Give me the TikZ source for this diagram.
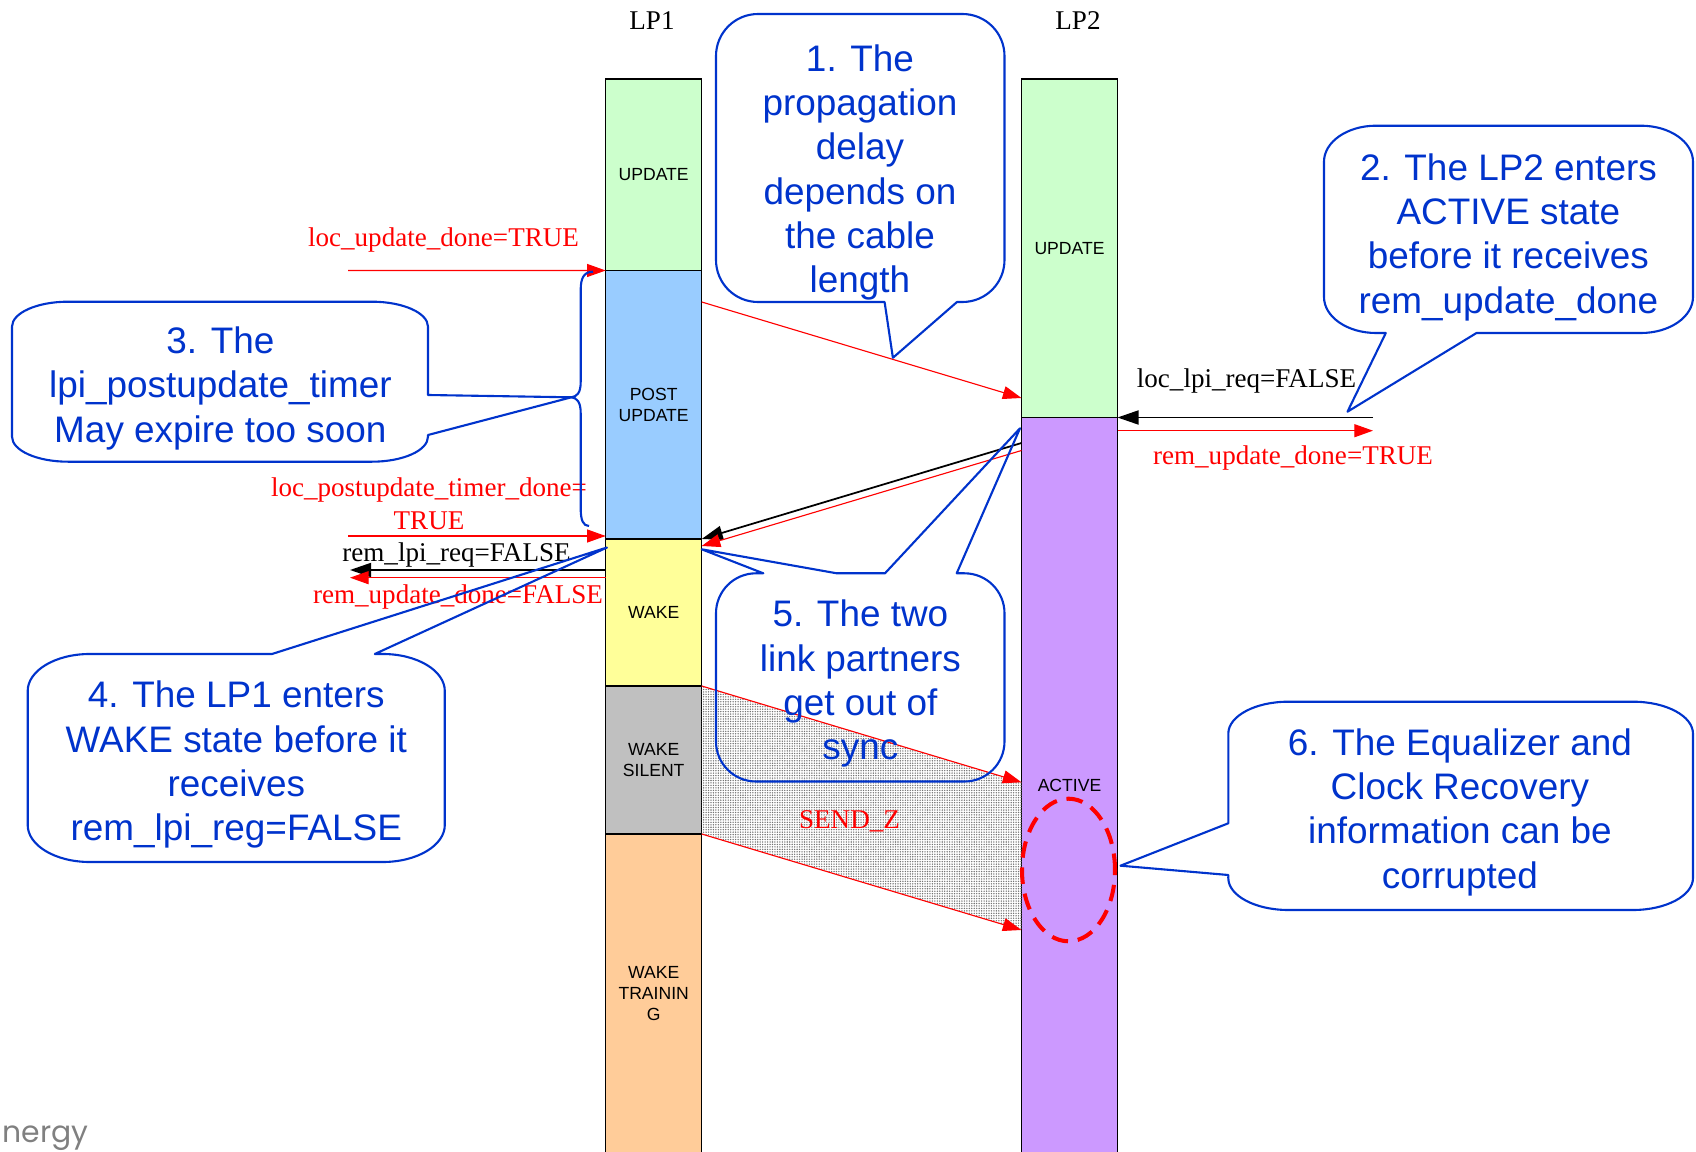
\documentclass[tikz,border=0pt]{standalone}
\usepackage{fontspec}
\setmainfont{Liberation Serif}
\newfontfamily\arialfont{Liberation Sans}
\newfontfamily\logofont{Poppins}
\usetikzlibrary{positioning,arrows.meta,patterns.meta}
\definecolor{updgreen}{HTML}{CCFFCC}
\definecolor{postblue}{HTML}{99CCFF}
\definecolor{wakeyellow}{HTML}{FFFF99}
\definecolor{silentgray}{HTML}{C0C0C0}
\definecolor{trainorange}{HTML}{FFCC99}
\definecolor{activepurple}{HTML}{CC99FF}
\definecolor{calblue}{HTML}{0033CC}

\begin{document}
\begin{tikzpicture}[
  phase/.style={draw, line width=0.4pt, minimum width=0.96cm, inner sep=0pt, outer sep=0pt, anchor=north, align=center, font=\arialfont\fontsize{5}{5.9}\selectfont},
  sigtext/.style={anchor=base, inner sep=0pt, align=center, font=\fontsize{7.7}{9.2}\selectfont},
  bubble/.style={draw=calblue, line width=0.6pt, line join=round},
  bubbletext/.style={text=calblue, inner sep=0pt, align=center, font=\arialfont\fontsize{10.5}{12.6}\selectfont},
  redsig/.style={red, line width=0.32pt, -{Triangle[length=5.3pt,width=3.7pt]}},
  blacksig/.style={black, line width=0.5pt, -{Triangle[length=6pt,width=4pt]}},
  node distance=0pt]
  \useasboundingbox (0,0) rectangle (16.96,-11.52);

  \node[phase, fill=updgreen, minimum height=1.915cm] (lp1upd) at (6.537,-0.79) {UPDATE};
  \node[phase, fill=postblue, minimum height=2.685cm, below=of lp1upd] (lp1post) {POST\\UPDATE};
  \node[phase, fill=wakeyellow, minimum height=1.47cm, below=of lp1post] (lp1wake) {WAKE};
  \node[phase, fill=silentgray, minimum height=1.48cm, below=of lp1wake] (lp1silent) {WAKE\\SILENT};
  \node[phase, fill=trainorange, minimum height=3.19cm, below=of lp1silent] (lp1train) {WAKE\\TRAININ\\G};
  \node[phase, fill=updgreen, minimum height=3.385cm] (lp2upd) at (10.695,-0.79) {UPDATE};
  \node[phase, fill=activepurple, minimum height=7.355cm, below=of lp2upd] (lp2act) {ACTIVE};
  \node[sigtext] (lp1name) at (6.52,-0.30) {LP1};
  \node[sigtext] (lp2name) at (10.78,-0.30) {LP2};

  \coordinate (sztop) at ([yshift=-3.648cm]lp2act.north west);
  \coordinate (szbot) at ([yshift=-5.125cm]lp2act.north west);
  \fill[pattern={Dots[distance=0.7pt,radius=0.22pt]}, pattern color=black!55] (lp1silent.north east) -- (sztop) -- (szbot) -- (lp1silent.south east) -- cycle;
  \draw[redsig] (lp1silent.north east) -- (sztop);
  \draw[redsig] (lp1silent.south east) -- (szbot);
  \node[sigtext, text=red] (sendz) at (8.495,-8.29) {SEND\_Z};

  \coordinate (lud) at (3.48,-2.705);
  \coordinate (lptd) at (3.48,-5.36);
  \coordinate (rlr) at (3.50,-5.70);
  \coordinate (rudf) at (3.50,-5.777);
  \coordinate (llr) at (13.73,-4.175);
  \coordinate (rudt) at (13.73,-4.307);
  \draw[redsig] (lud) -- (lp1post.north west);
  \draw[redsig] (lptd) -- (lptd -| lp1wake.west);
  \draw[blacksig] (rlr -| lp1wake.west) -- (rlr);
  \draw[redsig] (rudf -| lp1wake.west) -- (rudf);
  \draw[redsig] ([yshift=-0.315cm]lp1post.north east) -- ([yshift=0.195cm]lp2act.north west);
  \draw[blacksig] ([yshift=-0.255cm]lp2act.north west) -- (lp1wake.north east);
  \draw[redsig] ([yshift=-0.33cm]lp2act.north west) -- ([yshift=-0.07cm]lp1wake.north east);
  \draw[blacksig] (llr) -- (llr -| lp2act.east);
  \draw[redsig] (rudt -| lp2act.east) -- (rudt);

  \node[sigtext, text=red] (ludlabel) at (4.435,-2.467) {loc\_update\_done=TRUE};
  \node[sigtext, text=red, anchor=north] (lptdlabel) at (4.29,-4.775) {loc\_postupdate\_timer\_done=\\TRUE};
  \node[sigtext] (rlrlabel) at (4.565,-5.617) {rem\_lpi\_req=FALSE};
  \node[sigtext, text=red] (rudflabel) at (4.58,-6.04) {rem\_update\_done=FALSE};
  \node[sigtext] (llrlabel) at (12.465,-3.873) {loc\_lpi\_req=FALSE};
  \node[sigtext, text=red] (rudtlabel) at (12.93,-4.643) {rem\_update\_done=TRUE};

  \draw[red, line width=1.15pt, dash pattern=on 4.7pt off 2.8pt] (10.685,-8.70) ellipse [x radius=0.465, y radius=0.713];

  \draw[bubble] (7.58,-0.14) -- (9.625,-0.14) arc[start angle=90, end angle=0, radius=0.42] -- (10.045,-2.60) arc[start angle=0, end angle=-90, radius=0.42] -- (9.57,-3.02) -- (8.929,-3.578) -- (8.846,-3.02) -- (7.58,-3.02) arc[start angle=270, end angle=180, radius=0.42] -- (7.16,-0.56) arc[start angle=180, end angle=90, radius=0.42] -- cycle;
  \node[bubbletext] (note1) at (8.60,-1.726) {1. The\\propagation\\delay\\depends on\\the cable\\length};

  \draw[bubble] (13.76,-1.257) -- (16.41,-1.257) arc[start angle=90, end angle=0, x radius=0.52, y radius=0.36] -- (16.93,-2.97) arc[start angle=0, end angle=-90, x radius=0.52, y radius=0.36] -- (14.765,-3.33) -- (13.475,-4.117) -- (13.858,-3.33) -- (13.76,-3.33) arc[start angle=270, end angle=180, x radius=0.52, y radius=0.36] -- (13.24,-1.617) arc[start angle=180, end angle=90, x radius=0.52, y radius=0.36] -- cycle;
  \node[bubbletext] (note2) at (15.084,-2.373) {2. The LP2 enters\\ACTIVE state\\before it receives\\rem\_update\_done};

  \draw[bubble] (0.68,-3.017) -- (3.72,-3.017) arc[start angle=90, end angle=0, x radius=0.56, y radius=0.25] -- (4.28,-3.95) -- (5.714,-3.973) -- (4.28,-4.35) -- (4.28,-4.367) arc[start angle=0, end angle=-90, x radius=0.56, y radius=0.25] -- (0.68,-4.617) arc[start angle=270, end angle=180, x radius=0.56, y radius=0.25] -- (0.12,-3.267) arc[start angle=180, end angle=90, x radius=0.56, y radius=0.25] -- cycle;
  \draw[bubble] (5.93,-2.717) .. controls (5.84,-2.717) and (5.807,-2.78) .. (5.807,-2.90) -- (5.807,-3.82) .. controls (5.807,-3.93) and (5.77,-3.965) .. (5.714,-3.973) .. controls (5.77,-3.98) and (5.807,-4.02) .. (5.807,-4.13) -- (5.807,-5.08) .. controls (5.807,-5.20) and (5.83,-5.26) .. (5.89,-5.26);
  \node[bubbletext] (note3) at (2.204,-3.884) {3. The\\lpi\_postupdate\_timer\\May expire too soon};

  \draw[bubble] (0.897,-6.54) -- (2.72,-6.54) -- (6.07,-5.475) -- (3.748,-6.54) -- (3.828,-6.54) arc[start angle=90, end angle=0, x radius=0.62, y radius=0.37] -- (4.448,-8.25) arc[start angle=0, end angle=-90, x radius=0.62, y radius=0.37] -- (0.897,-8.62) arc[start angle=270, end angle=180, x radius=0.62, y radius=0.37] -- (0.277,-6.91) arc[start angle=180, end angle=90, x radius=0.62, y radius=0.37] -- cycle;
  \node[bubbletext] (note4) at (2.363,-7.647) {4. The LP1 enters\\WAKE state before it\\receives\\rem\_lpi\_reg=FALSE};

  \draw[bubble] (7.56,-5.733) -- (7.633,-5.733) -- (7.017,-5.493) -- (8.367,-5.733) -- (8.85,-5.733) -- (10.20,-4.283) -- (9.567,-5.733) -- (9.645,-5.733) arc[start angle=90, end angle=0, radius=0.4] -- (10.045,-7.415) arc[start angle=0, end angle=-90, radius=0.4] -- (7.56,-7.815) arc[start angle=270, end angle=180, radius=0.4] -- (7.16,-6.133) arc[start angle=180, end angle=90, radius=0.4] -- cycle;
  \node[bubbletext] (note5) at (8.604,-6.838) {5. The two\\link partners\\get out of\\sync};

  \draw[bubble] (12.883,-7.017) -- (16.33,-7.017) arc[start angle=90, end angle=0, x radius=0.6, y radius=0.32] -- (16.93,-8.78) arc[start angle=0, end angle=-90, x radius=0.6, y radius=0.32] -- (12.883,-9.10) arc[start angle=270, end angle=180, x radius=0.6, y radius=0.32] -- (12.283,-8.75) -- (11.205,-8.657) -- (12.283,-8.233) -- (12.283,-7.337) arc[start angle=180, end angle=90, x radius=0.6, y radius=0.32] -- cycle;
  \node[bubbletext] (note6) at (14.599,-8.123) {6. The Equalizer and\\Clock Recovery\\information can be\\corrupted};

  \node[anchor=base west, inner sep=0pt, text=black!50, font=\logofont\fontsize{8.5}{10}\selectfont] (logo) at (0.02,-11.42) {nergy};
\end{tikzpicture}
\end{document}
